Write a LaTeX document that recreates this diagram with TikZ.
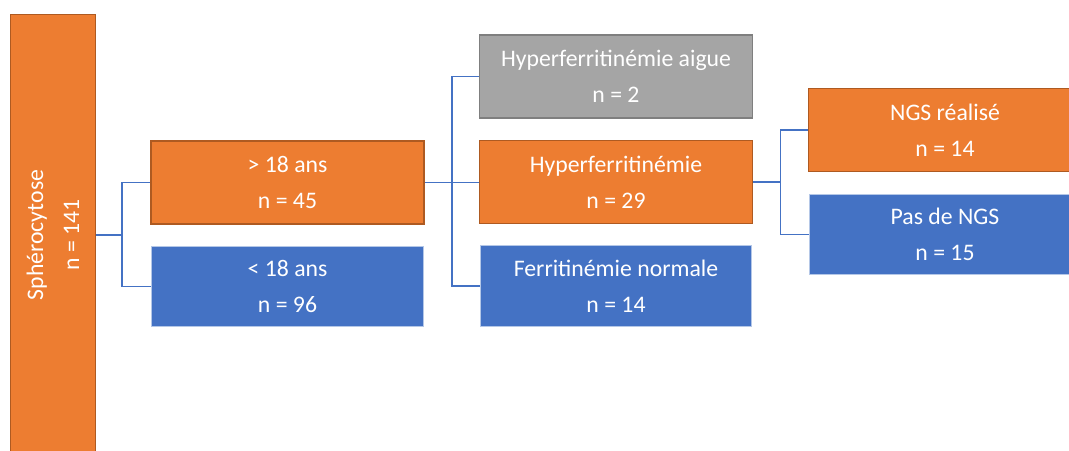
\documentclass[tikz,border=0pt]{standalone}
\usepackage{fontspec}
\setmainfont{Carlito}
\usetikzlibrary{positioning}

\definecolor{orangefill}{HTML}{ED7D31}
\definecolor{orangeline}{HTML}{AE5A21}
\definecolor{bluefill}{HTML}{4472C4}
\definecolor{blueline}{HTML}{B4C7E7}
\definecolor{greyfill}{HTML}{A5A5A5}
\definecolor{greyline}{HTML}{7F7F7F}

\tikzset{
    box/.style={align=center, text=white, inner sep=0pt, font=\fontsize{17.8}{27}\selectfont},
    orangebox/.style={box, fill=orangefill, draw=orangeline, line width=1.1pt, minimum width=205pt, minimum height=62.5pt},
    bluebox/.style={box, fill=bluefill, draw=blueline, line width=0.6pt, minimum width=203.5pt, minimum height=60.5pt},
    greybox/.style={box, fill=greyfill, draw=greyline, line width=1.1pt, minimum width=205pt, minimum height=62.5pt},
    link/.style={draw=bluefill, line width=1.1pt},
}

\begin{document}
\begin{tikzpicture}[x=0.75pt, y=-0.75pt]
    \clip (0,0) rectangle (1069,450);

    \node[orangebox, rotate=90, minimum width=331pt, minimum height=63.4pt] (root) at (53, 235) {Sphérocytose\\n = 141};

    \node[orangebox] (adult) at (287.5, 182.5) {> 18 ans\\n = 45};
    \node[bluebox] (child) [below=15.5pt of adult] {< 18 ans\\n = 96};

    \node[orangebox] (hyper) at (616, 182) {Hyperferritinémie\\n = 29};
    \node[greybox] (acute) [above=15.5pt of hyper] {Hyperferritinémie aigue\\n = 2};
    \node[bluebox] (normal) [below=15.5pt of hyper] {Ferritinémie normale\\n = 14};

    \node[orangebox] (ngs) at (945, 130) {NGS réalisé\\n = 14};
    \node[bluebox] (nongs) [below=16pt of ngs] {Pas de NGS\\n = 15};

    \draw[link] (root.south) -- ++(26,0) |- (adult.west);
    \draw[link] (root.south) -- ++(26,0) |- (child.west);
    \draw[link] (adult.east) -- ++(27,0) |- (acute.west);
    \draw[link] (adult.east) -- (adult.east -| hyper.west);
    \draw[link] (adult.east) -- ++(27,0) |- (normal.west);
    \draw[link] (hyper.east) -- ++(27,0) |- (ngs.west);
    \draw[link] (hyper.east) -- ++(27,0) |- (nongs.west);
\end{tikzpicture}
\end{document}
